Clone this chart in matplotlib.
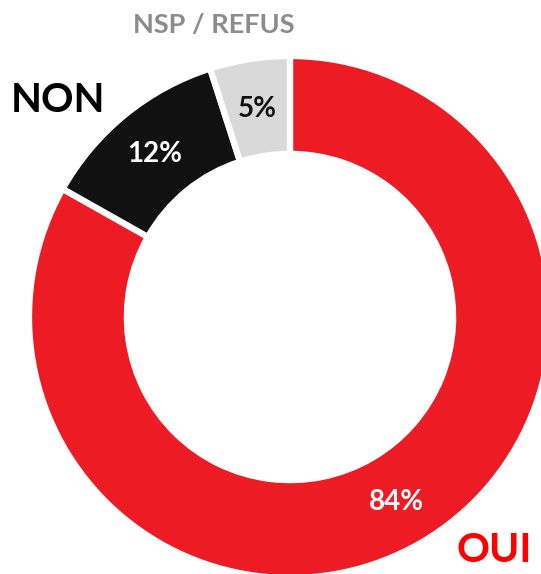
import matplotlib.pyplot as plt

# -----------------------------
# Data
# -----------------------------
categories = ['OUI', 'NON', 'NSP / REFUS']
values = [84, 12, 5]
pct_labels = ['84%', '12%', '5%']
colors = ['#ED1C24', '#111111', '#D9D9D9']
pct_colors = ['white', 'white', '#111111']
cat_colors = ['#FF0000', '#000000', '#8C8C8C']

# geometry in pixels (figure is 541x574 at dpi 100)
W, H = 541, 574
cx, cy, R = 290, 317, 261


def px(x, y):
    return (x - cx) / R, (cy - y) / R


pct_pos = [px(396, 502), px(155, 154), px(257, 109)]
cat_pos = [px(494, 551), px(58, 101), px(214, 25)]
cat_sizes = [29.5, 29, 19.5]

plt.rcParams['font.family'] = ['Lato', 'DejaVu Sans']

fig = plt.figure(figsize=(W / 100, H / 100), dpi=100)
ax = fig.add_axes([0, 0, 1, 1])
ax.pie(values, colors=colors, startangle=90, counterclock=False, radius=1,
       wedgeprops=dict(width=0.375, edgecolor='white', linewidth=4.5))
ax.set_xlim(-cx / R, (W - cx) / R)
ax.set_ylim(-(H - cy) / R, cy / R)
ax.set_aspect('auto')
ax.axis('off')

for lab, (x, y), c in zip(pct_labels, pct_pos, pct_colors):
    ax.text(x, y, lab, color=c, fontsize=20, fontweight='bold', ha='center', va='center')

for lab, (x, y), c, s in zip(categories, cat_pos, cat_colors, cat_sizes):
    ax.text(x, y, lab, color=c, fontsize=s, fontweight='bold', ha='center', va='center')

fig.savefig('out.png', dpi=100)
